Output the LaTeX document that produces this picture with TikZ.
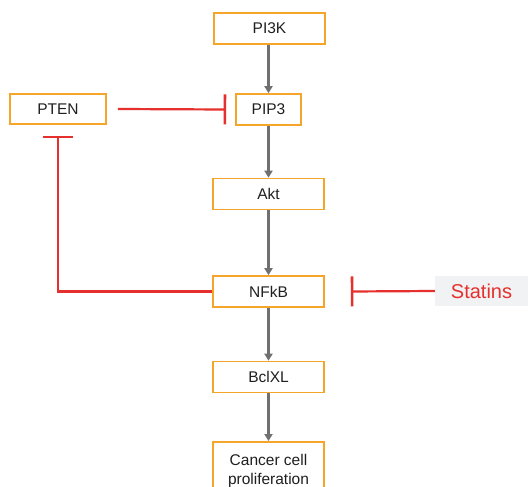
\documentclass[tikz,border=0pt]{standalone}
\usepackage{fontspec}
\setmainfont{Liberation Sans}
\usetikzlibrary{arrows.meta}
\definecolor{boxorange}{HTML}{F5A52A}
\definecolor{arrowgray}{HTML}{707070}
\definecolor{inhred}{HTML}{E5302E}
\definecolor{tagbg}{HTML}{F1F2F4}
\begin{document}
\begin{tikzpicture}[x=1pt,y=-1pt,
  pbox/.style={draw=boxorange, line width=1.6pt, fill=white, inner sep=0pt,
    minimum width=111pt, minimum height=31pt, font=\fontsize{15.5}{18.5}\selectfont,
    text=black!88, align=center},
  activ/.style={draw=arrowgray, line width=2.2pt, -{Triangle[length=7pt,width=8pt]}},
  inhib/.style={draw=inhred, line width=2.2pt, -{Bar[width=30pt,line width=2.6pt]}}]
\clip (0,0) rectangle (528,487);
\fill[white] (0,0) rectangle (528,487);

% pathway nodes
\node[pbox] (pi3k) at (269.5,28.5) {PI3K};
\node[pbox, minimum width=65pt] (pip3) at (268.5,109.5) {PIP3};
\node[pbox, minimum width=96pt, minimum height=30pt] (pten) at (58,109) {PTEN};
\node[pbox] (akt) at (268.5,194) {Akt};
\node[pbox] (nfkb) at (268.5,291.5) {NFkB};
\node[pbox] (bclxl) at (268.5,377) {BclXL};
\node[pbox, anchor=north, minimum height=58pt, inner ysep=8pt] (cancer) at (268.5,441)
  {Cancer cell\\proliferation};
\node[fill=tagbg, minimum width=93pt, minimum height=30pt, inner sep=0pt,
  text=inhred, font=\fontsize{20}{24}\selectfont] (statins) at (481.5,291) {Statins};

% activation chain
\draw[activ] (pip3.north |- pi3k.south) -- (pip3);
\draw[activ] (pip3) -- (akt);
\draw[activ] (akt) -- (nfkb);
\draw[activ] (nfkb) -- (bclxl);
\draw[activ] (bclxl) -- (cancer);

% inhibitions
\draw[inhib] ([xshift=11pt]pten.east) -- ([xshift=-9pt]pip3.west);
\draw[inhib] (statins.west) -- ([xshift=26pt]nfkb.east);
\draw[inhib] (nfkb.west) -| ([yshift=-11pt]pten.south);
\end{tikzpicture}
\end{document}
